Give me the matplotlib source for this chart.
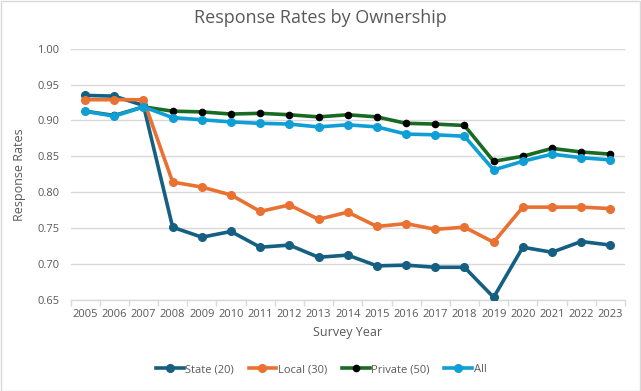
import numpy as np
import matplotlib.pyplot as plt
from matplotlib.patches import Rectangle

years = [str(y) for y in range(2005, 2024)]

state = [0.935, 0.934, 0.921, 0.751, 0.737, 0.745, 0.723, 0.726, 0.709, 0.712,
         0.697, 0.698, 0.695, 0.695, 0.653, 0.723, 0.716, 0.731, 0.726]
local = [0.929, 0.929, 0.929, 0.814, 0.807, 0.796, 0.773, 0.782, 0.762, 0.772,
         0.752, 0.756, 0.748, 0.751, 0.730, 0.779, 0.779, 0.779, 0.777]
private = [0.913, 0.907, 0.919, 0.913, 0.912, 0.909, 0.910, 0.908, 0.905, 0.908,
           0.905, 0.896, 0.895, 0.893, 0.843, 0.850, 0.861, 0.856, 0.853]
all_ = [0.913, 0.906, 0.919, 0.904, 0.901, 0.898, 0.896, 0.895, 0.891, 0.894,
        0.891, 0.881, 0.880, 0.878, 0.831, 0.843, 0.853, 0.848, 0.845]

plt.rcParams['font.family'] = ['Open Sans', 'DejaVu Sans']
txt = '#595959'
grid = '#D9D9D9'

fig = plt.figure(figsize=(6.41, 3.91), dpi=100)
ax = fig.add_axes([0.110, 0.234, 0.865, 0.641])

x = np.arange(len(years))
ax.plot(x, state, color='#156082', lw=2.6, marker='o', ms=5.5, label='State (20)', zorder=3)
ax.plot(x, local, color='#E97132', lw=2.6, marker='o', ms=5.5, label='Local (30)', zorder=3)
ax.plot(x, private, color='#196B24', lw=2.6, marker='o', ms=4.5, mfc='black', mec='black',
        label='Private (50)', zorder=3)
ax.plot(x, all_, color='#0F9ED5', lw=2.6, marker='o', ms=5.5, label='All', zorder=4)

ax.set_xlim(-0.5, len(years) - 0.5)
ax.set_ylim(0.65, 1.00)
ax.set_yticks(np.arange(0.65, 1.001, 0.05))
ax.set_yticklabels(['%.2f' % v for v in np.arange(0.65, 1.001, 0.05)])
ax.set_xticks(x)
ax.set_xticklabels(years)
ax.set_xticks(np.arange(-0.5, len(years)), minor=True)
ax.tick_params(axis='x', which='major', length=0, labelsize=8, colors=txt, pad=7)
ax.tick_params(axis='x', which='minor', length=4, color=grid, width=1)
ax.tick_params(axis='y', length=0, labelsize=8, colors=txt, pad=8)
ax.grid(axis='y', color=grid, lw=1)
ax.set_axisbelow(True)
for s in ['top', 'right', 'left']:
    ax.spines[s].set_visible(False)
ax.spines['bottom'].set_color(grid)
ax.spines['bottom'].set_linewidth(1)

ax.set_xlabel('Survey Year', fontsize=9, color=txt, labelpad=4)
ax.set_ylabel('Response Rates', fontsize=9, color=txt, labelpad=8)
fig.text(0.5, 0.953, 'Response Rates by Ownership', ha='center', va='center',
         fontsize=13, color=txt)

ax.legend(loc='center', bbox_to_anchor=(0.452, -0.28), ncol=4, frameon=False,
          fontsize=8, labelcolor=txt, handlelength=2.5, columnspacing=1.3,
          handletextpad=0.15, borderpad=0, borderaxespad=0)

fig.patches.append(Rectangle((0.001, 0.001), 0.997, 0.997, transform=fig.transFigure,
                             fill=False, edgecolor=grid, lw=1))

fig.savefig('out.png', dpi=100)
